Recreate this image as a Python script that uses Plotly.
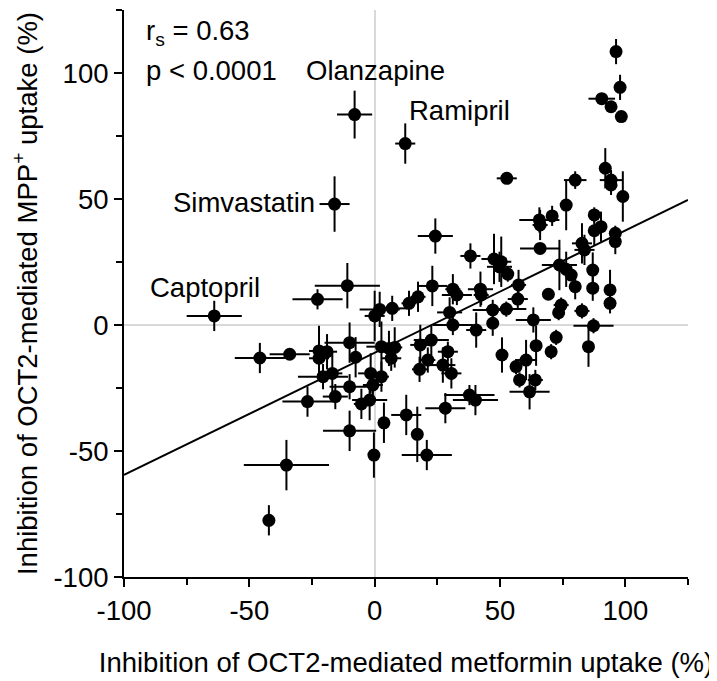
import plotly.graph_objects as go
import numpy as np

# metformin inhibition (x), MPP+ inhibition (y), and SEMs
x_vals = [-8, 12.2, -16, -64, 96.3, 97.9, 90.6, 94.3, 98.4, 52.7,
          80, 92, 94.3, 94.3, 99, 76.4, 65.7, 66, 70.8, 87.6,
          90.3, 87.6, 96, 96, 66, 82.7, 83.7, 38.2, 47.6, 50.5,
          49.8, 53.1, 73.7, 76.4, 78.4, 80, 87, 87, 93.9, 93.9,
          69.3, 74.4, 73.4, 82.7, 87.3, 85.3, 63.3, 57.4, 57.1, 42.2,
          42.5, 47.1, 52.5, 31.2, 32.8, 23, 17.3, 13.7, 7, 2,
          0, 29.9, 31.2, 40.5, 47.1, 22.6, 18.2, 29.2, 21.2, 17.9,
          27.2, 30.6, 50.8, 64.4, 60.4, 56.4, 72.4, 70.4, 57.8, 64.1,
          61.8, 37.8, 40.2, 28.2, 12.6, 17, 20.8, -0.3, 3.7, -10,
          -35.2, -42.2, -45.8, -33.9, -22.2, -19, -22.2, -10, -7.6, -20.6,
          -16.9, -10, -26.8, -15.7, -5.3, -2, -1.6, -0.7, 2.7, 2.7,
          5.7, 8, 6.6, -10.9, -22.8, 24.2]
y_vals = [83.5, 72, 48, 3.6, 108.5, 94.3, 89.8, 86.6, 82.7, 58.2,
          57.5, 62.2, 57.5, 55.6, 51, 47.6, 41.7, 39.7, 43.3, 43.7,
          39, 37.4, 36.4, 33.1, 30.4, 32.4, 29.8, 27.4, 26.2, 25.1,
          23.1, 20.2, 23.8, 22.1, 19.8, 15.2, 21.8, 14.6, 13.9, 8.6,
          12.2, 7.9, 4.9, 5.6, -0.3, -8.6, 2, 15.9, 10.3, 14.2,
          11.9, 6, 6.3, 14.2, 11.9, 15.5, 11.2, 8.6, 6.6, 6.2,
          3.6, 5, 0, -2, 0.7, -6, -7.9, -10.6, -13.9, -17.6,
          -15.9, -19.2, -11.9, -8.2, -13.9, -16.5, -4.9, -10.6, -21.8, -21.8,
          -26.5, -27.8, -29.8, -33, -35.7, -43.4, -51.6, -51.6, -38.8, -42,
          -55.6, -77.5, -13.1, -11.6, -10.3, -10.6, -13.2, -7, -12.8, -20.5,
          -19.2, -24.5, -30.4, -28.4, -31.3, -29.8, -19.2, -23.8, -20.5, -8.6,
          -9.3, -8.9, -13.2, 15.6, 10.2, 35.3]
x_err = [7, 4, 6, 11, 1.5, 1.5, 5.3, 1, 1, 4,
         4.5, 1, 4.5, 2, 1, 1, 8, 3, 1, 1,
         1, 1, 1, 1, 8, 4, 4, 4, 5, 4,
         5, 2, 7, 2, 2, 1, 1, 1, 1, 1,
         0.5, 3, 2, 3, 8, 1, 7, 3, 4, 5,
         3, 8, 8, 3, 6, 6, 3, 3, 6, 8,
         4, 5, 8, 4, 2, 7, 4, 4, 3, 3,
         5, 4, 2, 1, 4, 2, 2, 2, 2, 3,
         8, 10, 9, 8, 6, 2, 10, 1, 1, 10.6,
         17, 1, 10, 8, 4, 4, 4, 10, 2, 10,
         4, 8, 10, 5, 3, 7, 5, 4, 3, 6,
         4, 3, 4, 13, 10, 7]
y_err = [9.5, 8, 11, 6, 5, 5, 2, 2, 2, 2,
         3.5, 8, 4, 4, 10, 10, 5, 6, 4, 3,
         6, 6, 3, 5, 2, 8, 6, 5, 10, 10,
         6, 3, 10, 7, 2, 5, 7, 5, 8, 4,
         0.5, 3, 3, 3, 3, 8, 5, 6, 4, 7,
         4, 4, 3, 6, 4, 8, 6, 5, 5, 7,
         10, 6, 4, 7, 5, 6, 8, 4, 5, 5,
         7, 6, 7, 8, 8, 3, 3, 3, 3, 4,
         7, 4, 6, 6, 8, 11, 6, 9, 8, 8,
         10, 6, 6, 2, 10, 7, 4, 8, 8, 5,
         8, 5, 6, 5, 6, 8, 8, 6, 6, 10,
         7, 8, 5, 9, 4, 7]

fit_slope = 0.485
fit_intercept = -11.0
axis_range = [-100, 125]
tick_vals = [-100, -50, 0, 50, 100]
tick_text = ["-100", "-50", "0", "50", "100"]

labels = ["Olanzapine", "Ramipril", "Simvastatin", "Captopril"]
label_x = [-28, 13, -23, -90.5]
label_y = [101, 85, 48.5, 14.7]
label_anchor = ["left", "left", "right", "left"]

FONT = "Liberation Sans, Arial, sans-serif"
FS = 27.5

fig = go.Figure()

fit_x = np.array(axis_range, dtype=float)
fig.add_trace(go.Scatter(x=fit_x, y=fit_slope * fit_x + fit_intercept, mode="lines",
                         line=dict(color="black", width=2), hoverinfo="skip"))

fig.add_trace(go.Scatter(
    x=x_vals, y=y_vals, mode="markers",
    marker=dict(color="black", size=13, line=dict(width=0)),
    error_x=dict(type="data", array=x_err, color="black", thickness=2, width=0),
    error_y=dict(type="data", array=y_err, color="black", thickness=2, width=0),
))

for t, lx, ly, anc in zip(labels, label_x, label_y, label_anchor):
    fig.add_annotation(x=lx, y=ly, text=t, showarrow=False, xanchor=anc, yanchor="middle",
                       font=dict(family=FONT, size=FS, color="black"))

fig.add_annotation(x=-92, y=116, text="r<sub>s</sub> = 0.63", showarrow=False,
                   xanchor="left", yanchor="middle", font=dict(family=FONT, size=FS, color="black"))
fig.add_annotation(x=-92, y=101, text="p &lt; 0.0001", showarrow=False,
                   xanchor="left", yanchor="middle", font=dict(family=FONT, size=FS, color="black"))

axis_common = dict(
    range=axis_range, tickvals=tick_vals, ticktext=tick_text, ticks="outside", ticklen=8, tickwidth=2,
    tickcolor="black", showline=True, linecolor="black", linewidth=2, mirror=False,
    showgrid=False, zeroline=True, zerolinecolor="#d9d9d9", zerolinewidth=2,
    tickfont=dict(family=FONT, size=FS, color="black"),
    minor=dict(dtick=25, tick0=0, ticks="outside", ticklen=6, tickwidth=2, tickcolor="black", showgrid=False),
)

fig.update_layout(
    width=717, height=681, showlegend=False,
    plot_bgcolor="white", paper_bgcolor="white",
    margin=dict(l=116, r=37, t=2, b=112),
    xaxis=dict(**axis_common,
               title=dict(text="Inhibition of OCT2-mediated metformin uptake (%)", standoff=28,
                          font=dict(family=FONT, size=FS, color="black"))),
    yaxis=dict(**axis_common,
               title=dict(text="Inhibition of OCT2-mediated MPP<sup>+</sup> uptake (%)", standoff=8,
                          font=dict(family=FONT, size=FS, color="black"))),
)

fig.write_html("out.html")
